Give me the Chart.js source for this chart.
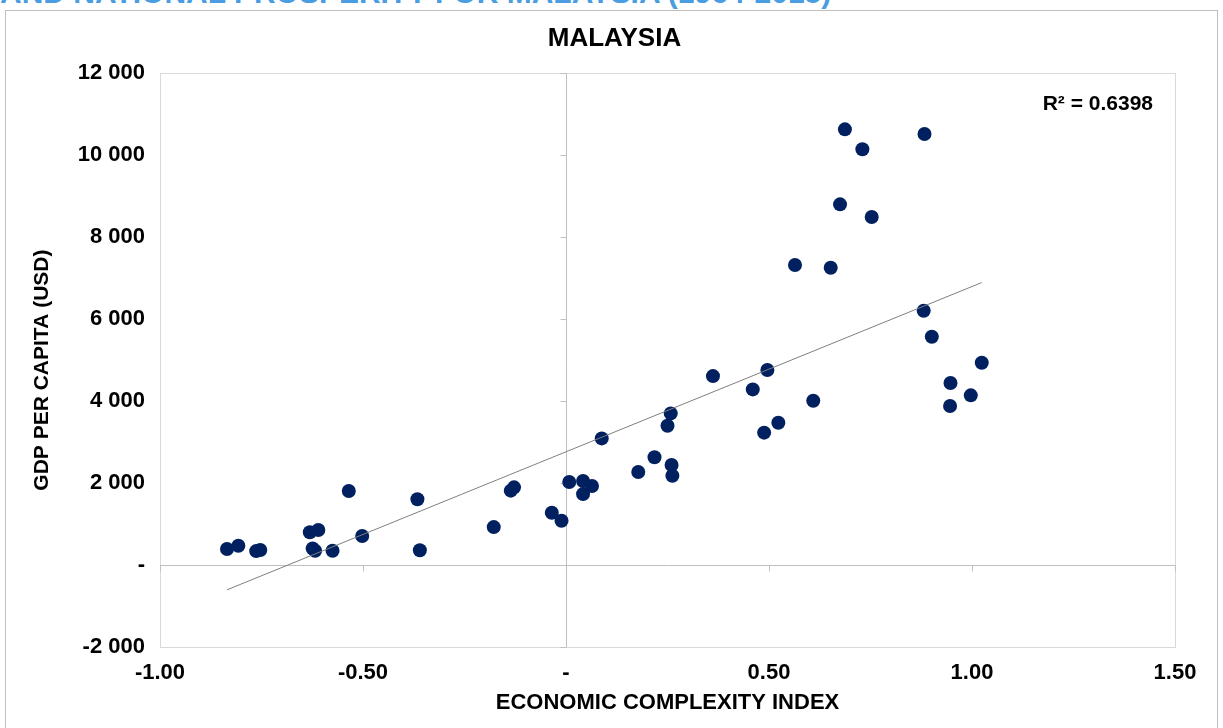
<!DOCTYPE html>
<html>
<head>
<meta charset="utf-8">
<title>Economic complexity and national prosperity for Malaysia</title>
<script src="https://cdn.jsdelivr.net/npm/chart.js@4/dist/chart.umd.min.js"></script>
<style>
  html, body { margin: 0; padding: 0; background: #ffffff; overflow: hidden; }
  body { width: 1223px; height: 728px; position: relative; }
  #heading {
    position: absolute; left: 0; top: -22px; margin: 0;
    font: bold 30px "Liberation Sans", Arial, sans-serif; line-height: 30px;
    color: #4a9de0; white-space: nowrap;
  }
  #frame {
    position: absolute; left: 5px; top: 10px; width: 1213px; height: 740px;
    border: 1px solid #bfbfbf; box-sizing: border-box;
  }
  #wrap { position: absolute; left: 0; top: 0; width: 1223px; height: 728px; }
</style>
</head>
<body>
<div id="heading">AND NATIONAL PROSPERITY FOR MALAYSIA (1964-2015)</div>
<div id="frame"></div>
<div id="wrap"><canvas id="chart" width="1223" height="728"></canvas></div>
<script>
// Economic Complexity Index (x) and GDP per capita in USD (y), one point per year
const eci = [-0.835, -0.807, -0.763, -0.753, -0.631, -0.610, -0.624, -0.618, -0.575, -0.535,
             -0.502, -0.366, -0.360, -0.178, -0.136, -0.128, -0.035, -0.011, 0.008, 0.042,
             0.064, 0.042, 0.088, 0.178, 0.218, 0.260, 0.262, 0.258, 0.250, 0.362,
             0.460, 0.496, 0.488, 0.523, 0.609, 0.687, 0.730, 0.883, 0.675, 0.753,
             0.564, 0.652, 0.881, 0.901, 1.024, 0.947, 0.997, 0.946];
const gdpPerCapita = [390, 470, 340, 365, 800, 855, 405, 350, 350, 1805,
                      710, 1605, 360, 925, 1815, 1895, 1275, 1080, 2025, 2050,
                      1930, 1730, 3090, 2270, 2630, 2440, 2180, 3700, 3400, 4610,
                      4285, 4760, 3230, 3470, 4010, 10630, 10145, 10515, 8800, 8490,
                      7320, 7255, 6205, 5570, 4935, 4440, 4140, 3880];

const xTicks = [-1, -0.5, 0, 0.5, 1, 1.5];
const xTickLabels = ['-1.00', '-0.50', '-', '0.50', '1.00', '1.50'];
const yTicks = [-2000, 0, 2000, 4000, 6000, 8000, 10000, 12000];
const yTickLabels = ['-2 000', '-', '2 000', '4 000', '6 000', '8 000', '10 000', '12 000'];

const chartTitle = 'MALAYSIA';
const xTitle = 'ECONOMIC COMPLEXITY INDEX';
const yTitle = 'GDP PER CAPITA (USD)';
const rSquaredLabel = 'R\u00B2 = 0.6398';

// least-squares linear trend over the scatter
function linearFit(xs, ys) {
  const n = xs.length;
  const mx = xs.reduce((a, b) => a + b, 0) / n;
  const my = ys.reduce((a, b) => a + b, 0) / n;
  let sxy = 0, sxx = 0;
  for (let i = 0; i < n; i++) { sxy += (xs[i] - mx) * (ys[i] - my); sxx += (xs[i] - mx) ** 2; }
  const slope = sxy / sxx;
  return { slope, intercept: my - slope * mx };
}
const fit = linearFit(eci, gdpPerCapita);
const xMin = Math.min(...eci), xMax = Math.max(...eci);
const trendPoints = [
  { x: xMin, y: fit.intercept + fit.slope * xMin },
  { x: xMax, y: fit.intercept + fit.slope * xMax }
];
const scatterPoints = eci.map((x, i) => ({ x, y: gdpPerCapita[i] }));

const FONT = '"Liberation Sans", Arial, sans-serif';

function labelFor(ticks, labels, value) {
  let best = 0;
  for (let i = 1; i < ticks.length; i++) {
    if (Math.abs(ticks[i] - value) < Math.abs(ticks[best] - value)) best = i;
  }
  return labels[best];
}

// plot frame, zero axes with their tick marks, the vertical axis title and the R² note
const plotDecor = {
  id: 'plotDecor',
  beforeDatasetsDraw(chart) {
    const { ctx, chartArea: a, scales: { x, y } } = chart;
    ctx.save();
    ctx.lineWidth = 1;
    ctx.strokeStyle = '#d9d9d9';
    ctx.strokeRect(Math.round(a.left) + 0.5, Math.round(a.top) + 0.5,
                   Math.round(a.right - a.left), Math.round(a.bottom - a.top));
    const x0 = Math.round(x.getPixelForValue(0)) + 0.5;
    const y0 = Math.round(y.getPixelForValue(0)) + 0.5;
    ctx.strokeStyle = '#bfbfbf';
    ctx.beginPath();
    ctx.moveTo(x0, a.top); ctx.lineTo(x0, a.bottom);
    ctx.moveTo(a.left, y0); ctx.lineTo(a.right, y0);
    yTicks.forEach(v => {
      const py = Math.round(y.getPixelForValue(v)) + 0.5;
      ctx.moveTo(x0 - 6, py); ctx.lineTo(x0, py);
    });
    xTicks.forEach(v => {
      const px = Math.round(x.getPixelForValue(v)) + 0.5;
      ctx.moveTo(px, y0); ctx.lineTo(px, y0 + 6);
    });
    ctx.stroke();
    ctx.restore();
  },
  afterDraw(chart) {
    const { ctx, chartArea: a } = chart;
    ctx.save();
    ctx.fillStyle = '#000000';
    ctx.font = 'bold 21px ' + FONT;
    ctx.textAlign = 'right';
    ctx.textBaseline = 'middle';
    ctx.fillText(rSquaredLabel, a.right - 22, 104);

    ctx.translate(42, (a.top + a.bottom) / 2 + 10);
    ctx.rotate(-Math.PI / 2);
    ctx.textAlign = 'center';
    ctx.font = 'bold 21px ' + FONT;
    ctx.fillText(yTitle, 0, 0);
    ctx.restore();
  }
};

new Chart(document.getElementById('chart'), {
  type: 'scatter',
  data: {
    datasets: [
      {
        type: 'line',
        label: 'Linear trend',
        data: trendPoints,
        borderColor: '#7f7f7f',
        borderWidth: 1,
        pointRadius: 0,
        fill: false
      },
      {
        label: 'Malaysia',
        data: scatterPoints,
        backgroundColor: '#002060',
        borderColor: '#002060',
        borderWidth: 0,
        pointRadius: 7,
        pointHoverRadius: 7
      }
    ]
  },
  options: {
    responsive: false,
    animation: false,
    layout: { padding: { left: 6, right: 0, top: 0, bottom: 0 } },
    plugins: {
      legend: { display: false },
      tooltip: { enabled: false },
      title: {
        display: true,
        text: chartTitle,
        color: '#000000',
        font: { family: FONT, size: 26, weight: 'bold', lineHeight: 1.2 },
        padding: { top: 23, bottom: 19 }
      }
    },
    scales: {
      x: {
        type: 'linear',
        min: -1, max: 1.5,
        afterBuildTicks: s => { s.ticks = xTicks.map(v => ({ value: v })); },
        afterFit: s => { s.height = 81; },
        grid: { display: false, drawTicks: false },
        border: { display: false },
        ticks: {
          padding: 13,
          color: '#000000',
          font: { family: FONT, size: 22, weight: 'bold' },
          callback: v => labelFor(xTicks, xTickLabels, v)
        },
        title: {
          display: true, text: xTitle, color: '#000000',
          font: { family: FONT, size: 22, weight: 'bold', lineHeight: 1.2 },
          padding: { top: 0, bottom: 12 }
        }
      },
      y: {
        type: 'linear',
        min: -2000, max: 12000,
        afterBuildTicks: s => { s.ticks = yTicks.map(v => ({ value: v })); },
        afterFit: s => { s.width = 154; },
        grid: { display: false, drawTicks: false },
        border: { display: false },
        ticks: {
          padding: 15,
          color: '#000000',
          font: { family: FONT, size: 22, weight: 'bold' },
          callback: v => labelFor(yTicks, yTickLabels, v)
        }
      },
      // empty right-hand band that keeps the plot clear of the frame
      yRight: {
        type: 'linear',
        position: 'right',
        afterFit: s => { s.width = 48; },
        grid: { display: false, drawTicks: false },
        border: { display: false },
        ticks: { display: false }
      }
    }
  },
  plugins: [plotDecor]
});
</script>
</body>
</html>
